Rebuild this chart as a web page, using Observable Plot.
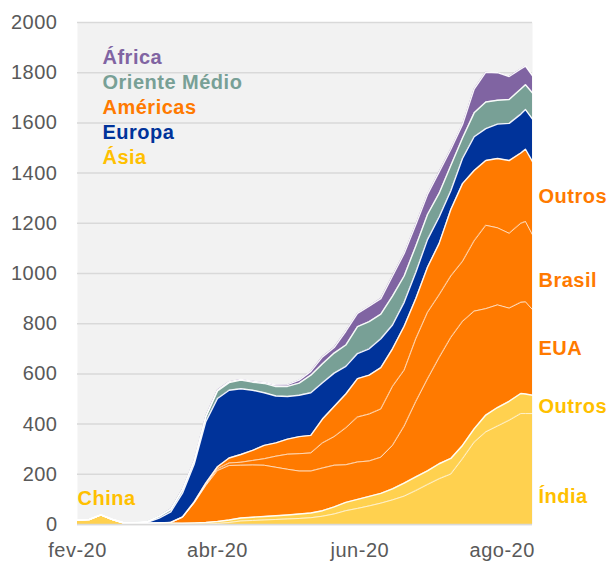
<!DOCTYPE html>
<html><head><meta charset="utf-8">
<script src="https://cdn.jsdelivr.net/npm/d3@7"></script>
<script src="https://cdn.jsdelivr.net/npm/@observablehq/plot@0.6"></script>
<style>
body{margin:0;background:#fff;}
#chart{width:608px;height:561px;}
</style></head><body><div id="chart"></div>
<script>
// ---- data ----
const dates = ["2020-02-01","2020-02-06","2020-02-11","2020-02-16","2020-02-21","2020-02-26","2020-03-02","2020-03-07","2020-03-12","2020-03-17","2020-03-22","2020-03-27","2020-04-01","2020-04-06","2020-04-11","2020-04-16","2020-04-21","2020-04-26","2020-05-01","2020-05-06","2020-05-11","2020-05-16","2020-05-21","2020-05-26","2020-05-31","2020-06-05","2020-06-10","2020-06-15","2020-06-20","2020-06-25","2020-06-30","2020-07-05","2020-07-10","2020-07-15","2020-07-20","2020-07-25","2020-07-30","2020-08-04","2020-08-09","2020-08-11","2020-08-14"];
const china          = [18,20,38,20,4,2,1,1,0.5,0.5,0.3,0.3,0.3,0.2,0,0,0,0,0,0,0,0,0,0,0,0,0,0,0,0,0,0,0,0,0,0,0,0,0,0,0];
const india          = [0,0,0,0,0,0,0,0,0,0.5,0.7,1.7,3.7,7.8,14,16,18,20,22,24,27,33,42,55,64,74,85,98,113,135,159,182,201,262,328,369,392,415,442,442,442];
const outrosAsia     = [0,0,0,0,2,4,4,5,5,4,5,6,8,10,12,13,14,15,16,18,19,22,28,33,36,38,39,44,52,55,55,60,62,53,53,67,74,76,80,78,73];
const eua            = [0,0,0,0,0,0,0,0.5,3,23,79,147,203,217,210,208,204,193,182,171,167,170,166,150,149,141,144,173,227,300,366,423,482,494,469,424,409,371,363,367,341];
const brasil         = [0,0,0,0,0,0,0,0,0,1,2,3,7,10,12,18,26,44,60,69,72,100,114,147,179,187,192,235,223,250,265,250,245,239,280,332,307,298,315,320,298];
const outrosAmericas = [0,0,0,0,0,0,0,0,0,1,3,7,8,20,31,40,53,53,60,68,70,95,120,135,153,155,165,150,175,160,180,205,265,310,280,258,276,290,280,288,292];
const europa         = [0,0,0,0,0,1,4,19,42,95,150,245,272,270,262,240,210,187,170,165,170,145,133,110,100,105,115,95,95,105,110,105,75,100,135,127,137,148,155,158,169];
const orienteMedio   = [0,0,0,0,0,1,3,7,10,13,12,18,30,30,34,32,37,38,40,48,70,75,80,85,107,108,98,115,105,105,100,95,100,82,95,106,95,95,100,99,104];
const africa         = [0,0,0,0,0,0,0,0.5,1,2,3,4,4,4,3,4,4,6,7,12,15,28,22,55,53,62,62,80,90,85,80,85,65,54,95,119,110,92,80,74,69];

const seriesNames  = ["China","Índia","Outros Ásia","EUA","Brasil","Outros Américas","Europa","Oriente Médio","África"];
const seriesColors = ["#ffd14f","#ffd14f","#ffd14f","#ff7a00","#ff7a00","#ff7a00","#00339a","#78a096","#8064a2"];
const groupTops    = ["Outros Ásia","Outros Américas","Europa","Oriente Médio","África"];

const xTickDates  = ["2020-02-01","2020-04-01","2020-06-01","2020-08-01"];
const xTickLabels = ["fev-20","abr-20","jun-20","ago-20"];
const yTicks = [0,200,400,600,800,1000,1200,1400,1600,1800,2000];

const legendNames  = ["África","Oriente Médio","Américas","Europa","Ásia"];
const legendColors = ["#8064a2","#78a096","#ff7a00","#00339a","#ffc000"];

const rightLabels      = ["Outros","Brasil","EUA","Outros","Índia"];
const rightLabelColors = ["#ff7a00","#ff7a00","#ff7a00","#ffc000","#ffc000"];
const rightLabelY      = [1281, 946, 675, 443, 84];

// ---- build tidy table ----
const parse = d3.utcParse("%Y-%m-%d");
const fmt = d3.utcFormat("%Y-%m-%d");
const seriesValues = [china, india, outrosAsia, eua, brasil, outrosAmericas, europa, orienteMedio, africa];
const data = [];
seriesNames.forEach((s, k) => dates.forEach((d, i) => data.push({date: parse(d), series: s, value: seriesValues[k][i]})));
const lastDate = parse(dates[dates.length - 1]);

const legendMarks = legendNames.map((name, i) =>
  Plot.text([name], {frameAnchor: "top-left", dx: 25, dy: 41.5 + i * 25, lineAnchor: "bottom", textAnchor: "start",
    fill: legendColors[i], fontWeight: "bold", fontSize: 20, text: d => d, ariaLabel: "legend"})
);

const chart = Plot.plot({
  width: 608,
  height: 561,
  marginLeft: 77,
  marginRight: 76,
  marginTop: 22,
  marginBottom: 37,
  style: {fontFamily: "'Liberation Sans', Arial, sans-serif", fontSize: "20px", color: "#595959", background: "#ffffff", overflow: "visible", letterSpacing: "0.5px"},
  x: {type: "utc", domain: [parse("2020-02-01"), lastDate]},
  y: {domain: [0, 2000]},
  color: {domain: seriesNames, range: seriesColors},
  marks: [
    Plot.frame({fill: "#f2f2f2", stroke: null}),
    Plot.gridY({ticks: yTicks, stroke: "#d9d9d9", strokeOpacity: 1, strokeWidth: 1.5}),
    Plot.areaY(data, {x: "date", y: "value", z: "series", fill: "series", order: seriesNames, curve: "linear"}),
    Plot.lineY(data, Plot.stackY2({x: "date", y: "value", z: "series", order: seriesNames, curve: "linear",
      stroke: "#ffffff",
      strokeWidth: d => groupTops.includes(d.series) ? 1.4 : 1,
      strokeOpacity: d => groupTops.includes(d.series) ? 0.95 : 0.7})),
    Plot.ruleY([0], {stroke: "#d9d9d9", strokeWidth: 1.5}),
    Plot.axisX({ticks: xTickDates.map(parse), tickFormat: d => xTickLabels[xTickDates.indexOf(fmt(d))], tickSize: 0, tickPadding: 18, fontSize: 20, label: null}),
    Plot.axisY({ticks: yTicks, tickFormat: d => String(d), tickSize: 0, tickPadding: 20, fontSize: 20, label: null}),
    ...legendMarks,
    Plot.text(rightLabels, {x: () => lastDate, y: (d, i) => rightLabelY[i], dx: 6, text: d => d, textAnchor: "start", lineAnchor: "bottom",
      fill: (d, i) => rightLabelColors[i], fontWeight: "bold", fontSize: 20, ariaLabel: "end-labels"}),
    Plot.text(["China"], {x: () => parse(dates[0]), y: () => 76, text: d => d, textAnchor: "start", lineAnchor: "bottom",
      fill: "#ffc000", fontWeight: "bold", fontSize: 20, ariaLabel: "china-label"})
  ]
});
d3.select(chart).selectAll("g[aria-label=legend] text, g[aria-label=china-label] text").attr("letter-spacing", "0.8px");
d3.select(chart).selectAll("g[aria-label=end-labels] text").attr("letter-spacing", "0.2px");
document.getElementById("chart").appendChild(chart);
</script>
</body></html>
